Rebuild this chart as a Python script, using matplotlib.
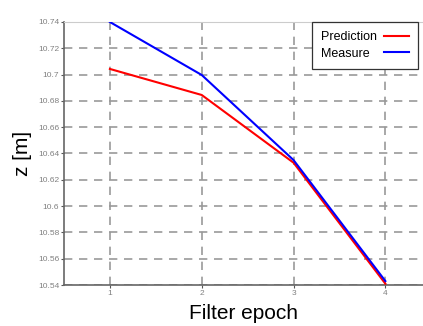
import matplotlib
matplotlib.use("Agg")
import matplotlib.pyplot as plt

epochs = [1, 2, 3, 4]
prediction = [10.7043, 10.6845, 10.633, 10.541]
measure = [10.740, 10.6997, 10.635, 10.543]
yticks = [10.54, 10.56, 10.58, 10.60, 10.62, 10.64, 10.66, 10.68, 10.70, 10.72, 10.74]
ytick_labels = ["10.54", "10.56", "10.58", "10.6", "10.62", "10.64", "10.66", "10.68", "10.7", "10.72", "10.74"]
xtick_labels = ["1", "2", "3", "4"]

plt.rcParams['font.family'] = ['Liberation Sans', 'DejaVu Sans']

fig = plt.figure(figsize=(4.23, 3.26), dpi=100)
ax = fig.add_axes([64/423, 1-285/326, 1-64/423, (285-22)/326])

ax.plot(epochs, prediction, color='red', lw=1.5, label='Prediction', zorder=3)
ax.plot(epochs, measure, color='blue', lw=1.5, label='Measure', zorder=3)

ax.set_xlim(0.5, 4.41)
ax.set_ylim(10.54, 10.74)
ax.set_xticks(epochs)
ax.set_xticklabels(xtick_labels)
ax.set_yticks(yticks)
ax.set_yticklabels(ytick_labels)

ax.grid(True, color='#999999', linestyle=(0, (5, 4)), linewidth=1.2)
ax.set_axisbelow(True)

for s in ['left', 'bottom']:
    ax.spines[s].set_color('#666666')
    ax.spines[s].set_linewidth(1.2)
ax.spines['top'].set_color('#cccccc')
ax.spines['right'].set_visible(False)

ax.tick_params(axis='both', labelsize=6, labelcolor='#808080', color='#555555', length=2, width=0.8, pad=1.5)

ax.set_xlabel('Filter epoch', fontsize=15, labelpad=5)
ax.set_ylabel('z [m]', fontsize=15, labelpad=4)

leg = fig.legend(loc='upper left', bbox_to_anchor=(312/423, 1-22/326), borderaxespad=0,
                 fontsize=9, markerfirst=False, handlelength=2.0, fancybox=False,
                 framealpha=1, edgecolor='#333333', borderpad=0.75, labelspacing=0.35,
                 handletextpad=0.5)
leg.get_frame().set_linewidth(0.9)

# left-align the label texts while keeping the handles aligned on the right
renderer = fig.canvas.get_renderer()
texts = leg.get_texts()
widths = [t.get_window_extent(renderer).width for t in texts]
maxw = max(widths)
base_sep = 0.5 * 9
for col in leg._legend_handle_box.get_children():
    for item, w in zip(col.get_children(), widths):
        item.sep = base_sep + (maxw - w) * 72 / fig.dpi

fig.savefig('out.png', dpi=100)
